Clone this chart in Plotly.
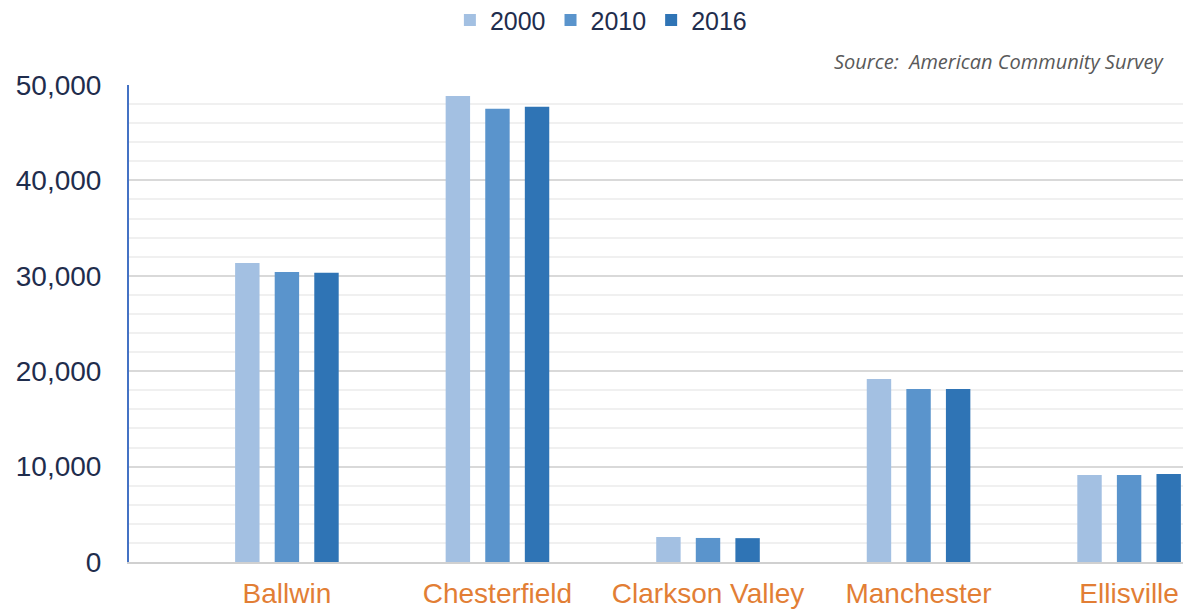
import plotly.graph_objects as go

cities = ["Ballwin", "Chesterfield", "Clarkson Valley", "Manchester", "Ellisville"]
years = ["2000", "2010", "2016"]
pop_2000 = [31340, 48850, 2620, 19180, 9120]
pop_2010 = [30400, 47520, 2520, 18130, 9120]
pop_2016 = [30330, 47730, 2500, 18130, 9220]
series = [pop_2000, pop_2010, pop_2016]
colors = ["#A3C0E2", "#5A94CC", "#2F74B5"]
y_ticks = [0, 10000, 20000, 30000, 40000, 50000]
y_ticktext = ["0", "10,000", "20,000", "30,000", "40,000", "50,000"]

fig = go.Figure()
for yr, vals, c in zip(years, series, colors):
    fig.add_trace(go.Bar(x=cities, y=vals, name=yr, marker=dict(color=c, line=dict(width=0))))

fig.update_layout(
    width=1197, height=610,
    paper_bgcolor="white", plot_bgcolor="white",
    margin=dict(l=129, r=14, t=85, b=48, autoexpand=False),
    barmode="group", bargap=0.436, bargroupgap=0.383,
    font=dict(family="Liberation Sans, Arial, sans-serif"),
    legend=dict(orientation="h", x=0.502, xref="container", xanchor="center", y=0.967, yref="container",
                yanchor="middle", font=dict(size=25, color="#1F2D4D"), itemwidth=30,
                traceorder="normal"),
    showlegend=True,
)
fig.update_xaxes(
    type="category", range=[-0.75, 4.256], automargin=False,
    showline=True, linecolor="#D0D0D0", linewidth=2,
    showgrid=False, ticks="", ticklabelstandoff=5,
    tickfont=dict(size=28, color="#E27E35"),
)
fig.update_yaxes(
    range=[0, 50000], tickvals=y_ticks, ticktext=y_ticktext, automargin=False,
    showgrid=True, gridcolor="#D9D9D9", gridwidth=2,
    minor=dict(dtick=2000, showgrid=True, gridcolor="#F0F0F0", gridwidth=2),
    showline=True, linecolor="#4472C4", linewidth=2,
    zeroline=False, ticks="", ticklabelstandoff=20,
    tickfont=dict(size=28, color="#1F2D4D"),
)
fig.add_annotation(
    text="Source:  American Community Survey", xref="paper", yref="paper",
    x=1.0, y=1.0, xanchor="right", yanchor="bottom", xshift=-17, yshift=8,
    showarrow=False, font=dict(size=20, color="#595959", family="Open Sans, sans-serif", style="italic"),
)
fig.write_html("out.html", config={"displayModeBar": False},
               post_script="document.body.style.margin='0';document.body.style.overflow='hidden';")
